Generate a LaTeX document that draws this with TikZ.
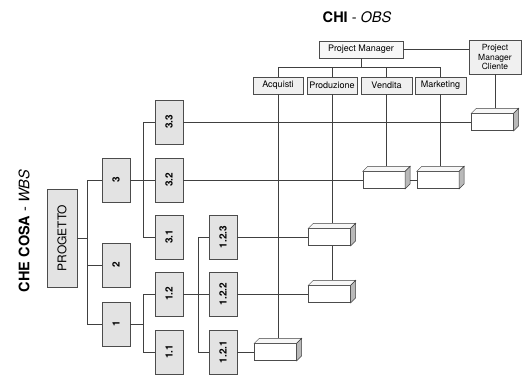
\documentclass[tikz,border=0pt]{standalone}
\usepackage{fontspec}
\setmainfont{TeX Gyre Heros}
\usepackage{graphicx}
\usepackage{tikz}

\begin{document}
\begin{tikzpicture}[x=1pt, y=-1pt,
  wbs/.style={draw=black!70, fill=gray!22, minimum width=28pt, minimum height=44pt, inner sep=0pt, font=\bfseries\fontsize{10}{12}\selectfont},
  obs/.style={draw=black!70, fill=gray!12, minimum width=50pt, minimum height=17pt, inner sep=0pt, font=\fontsize{9}{10}\selectfont},
  cube/.style={draw=black!70, fill=white, minimum width=42pt, minimum height=17pt, inner sep=0pt},
  link/.style={draw=black!75, line width=0.6pt},
  title/.style={font=\fontsize{14.5}{16}\selectfont}
]
\useasboundingbox[fill=white] (0,0) rectangle (523,376);

\node[title] (chi) at (357,17) {\textbf{CHI} - \textit{OBS}};
\node[title, rotate=90] (checosa) at (24,231) {\textbf{CHE COSA} - \textit{WBS}};

\node[wbs, minimum width=30pt, minimum height=98pt, font=\fontsize{12}{14}\selectfont] (prog) at (62,238) {\rotatebox{90}{PROGETTO}};
\node[wbs] (n3) at (116,180) {\rotatebox{90}{3}};
\node[wbs] (n2) at (116,265) {\rotatebox{90}{2}};
\node[wbs] (n1) at (116,324) {\rotatebox{90}{1}};
\node[wbs] (n33) at (169,122) {\rotatebox{90}{3.3}};
\node[wbs] (n32) at (169,180) {\rotatebox{90}{3.2}};
\node[wbs] (n31) at (169,237) {\rotatebox{90}{3.1}};
\node[wbs] (n12) at (169,294) {\rotatebox{90}{1.2}};
\node[wbs] (n11) at (169,352) {\rotatebox{90}{1.1}};
\node[wbs] (n123) at (223,237) {\rotatebox{90}{1.2.3}};
\node[wbs] (n122) at (223,294) {\rotatebox{90}{1.2.2}};
\node[wbs] (n121) at (223,352) {\rotatebox{90}{1.2.1}};

\node[obs, fill=gray!6, minimum width=84pt] (pm) at (361,49.5) {Project Manager};
\node[obs, minimum width=52pt, minimum height=34pt, align=center, font=\fontsize{8.5}{9.5}\selectfont] (pmc) at (495,57) {Project\\Manager\\Cliente};
\node[obs] (acq) at (278,85.5) {Acquisti};
\node[obs] (prod) at (332,85.5) {Produzione};
\node[obs, minimum width=51pt] (vend) at (386.5,85.5) {Vendita};
\node[obs, minimum width=51pt] (mark) at (440.5,85.5) {Marketing};

\node[cube] (cPMC) at (492.5,122) {};
\node[cube] (cV) at (384,180) {};
\node[cube] (cM) at (438,180) {};
\node[cube] (cP1) at (329.5,237) {};
\node[cube] (cP2) at (329.5,294) {};
\node[cube] (cA) at (275.5,352) {};
\foreach \c in {cPMC,cV,cM,cP1,cP2,cA} {
  \draw[link, line width=0.5pt, fill=gray!6] (\c.north west) -- ++(5,-5) -- ([shift={(5pt,5pt)}]\c.north east) -- (\c.north east) -- cycle;
  \draw[link, line width=0.5pt, fill=gray!55] (\c.north east) -- ++(5,-5) -- ([shift={(5pt,5pt)}]\c.south east) -- (\c.south east) -- cycle;
  \coordinate (\c-top) at ([shift={(2.5pt,5pt)}]\c.north);
}

\coordinate (j0) at (87,238);
\coordinate (j3) at (143,180);
\coordinate (j1) at (143,324);
\coordinate (j12) at (198,294);
\draw[link] (prog.east) -- (j0);
\foreach \n in {n3,n2,n1} \draw[link] (j0) |- (\n.west);
\draw[link] (n3.east) -- (j3);
\foreach \n in {n33,n32,n31} \draw[link] (j3) |- (\n.west);
\draw[link] (n1.east) -- (j1);
\foreach \n in {n12,n11} \draw[link] (j1) |- (\n.west);
\draw[link] (n12.east) -- (j12);
\foreach \n in {n123,n122,n121} \draw[link] (j12) |- (\n.west);

\foreach \o in {acq,prod,vend,mark} \draw[link] (pm.south) |- ([yshift=9.5pt]\o.north) -- (\o.north);
\draw[link] (pm.east) -- (pm.east -| pmc.west);
\draw[link] (pmc.south) -- (cPMC-top);
\draw[link] (acq.south) -- (cA-top);
\draw[link] (prod.south) -- (cP1-top);
\draw[link] ([xshift=2.5pt]cP1.south) -- (cP2-top);
\draw[link] (vend.south) -- (cV-top);
\draw[link] (mark.south) -- (cM-top);

\draw[link] (n33.east) -- (cPMC.west);
\draw[link] (n32.east) -- (cV.west);
\draw[link] ([xshift=5pt]cV.east) -- (cM.west);
\draw[link] (n123.east) -- (cP1.west);
\draw[link] (n122.east) -- (cP2.west);
\draw[link] (n121.east) -- (cA.west);
\end{tikzpicture}
\end{document}
